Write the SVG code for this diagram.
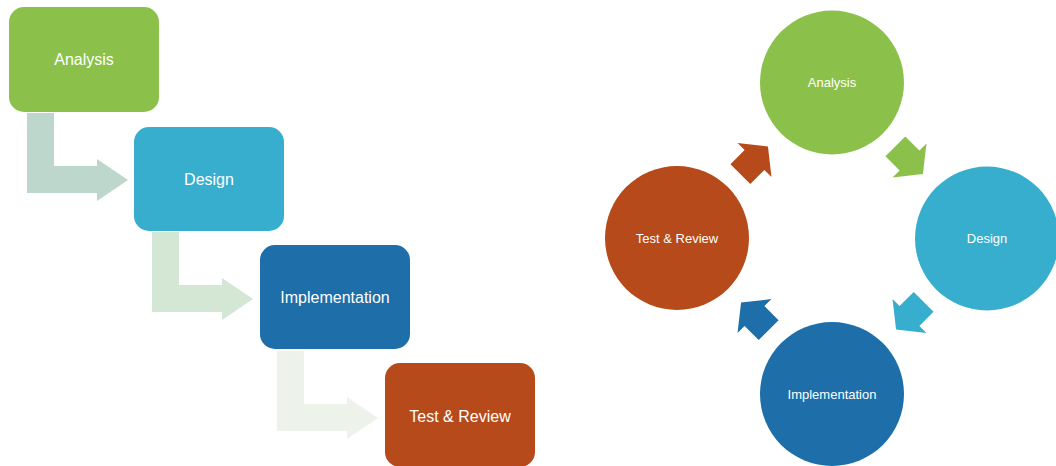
<svg xmlns="http://www.w3.org/2000/svg" xmlns:xlink="http://www.w3.org/1999/xlink" width="1056" height="466" viewBox="0 0 1056 466">
<style>
.lbl{font-family:"Liberation Sans",Arial,sans-serif;fill:#ffffff;text-anchor:middle}
.big{font-size:16px}
.small{font-size:13px}
</style>
<defs>
<polygon id="cyc" points="-20,-14 0,-14 0,-24 19,0 0,24 0,14 -20,14"/>
</defs>
<rect width="1056" height="466" fill="#ffffff"/>
<g id="connectors">
<polygon points="27,113 54,113 54,166 97,166 97,159 128,180 97,201 97,193 27,193" fill="#BDD7CD"/>
<polygon points="152,232 179,232 179,285 222,285 222,278 253,299 222,320 222,312 152,312" fill="#D4E7D5"/>
<polygon points="277,351 304,351 304,404 347,404 347,397 378,418 347,439 347,431 277,431" fill="#EDF3EA"/>
<use xlink:href="#cyc" href="#cyc" transform="translate(909.5,160.5) rotate(45)" fill="#8BC14A"/>
<use xlink:href="#cyc" href="#cyc" transform="translate(909.5,316) rotate(135)" fill="#37AECE"/>
<use xlink:href="#cyc" href="#cyc" transform="translate(754.5,316) rotate(225)" fill="#1E6EA9"/>
<use xlink:href="#cyc" href="#cyc" transform="translate(754.5,160) rotate(315)" fill="#B64A1A"/>
</g>
<g id="box-analysis">
<rect x="9" y="7" width="150" height="105" rx="15" fill="#8BC14A"/>
<text class="lbl big" x="84" y="65">Analysis</text>
</g>
<g id="box-design">
<rect x="134" y="127" width="150" height="104" rx="15" fill="#37AECE"/>
<text class="lbl big" x="209" y="185">Design</text>
</g>
<g id="box-implementation">
<rect x="260" y="245" width="150" height="104" rx="15" fill="#1E6EA9"/>
<text class="lbl big" x="335" y="303">Implementation</text>
</g>
<g id="box-test">
<rect x="385" y="363" width="150" height="104" rx="15" fill="#B64A1A"/>
<text class="lbl big" x="460" y="422">Test &amp; Review</text>
</g>
<g id="circle-analysis">
<circle cx="832" cy="82.5" r="72" fill="#8BC14A"/>
<text class="lbl small" x="832" y="87">Analysis</text>
</g>
<g id="circle-design">
<circle cx="987" cy="238.5" r="72" fill="#37AECE"/>
<text class="lbl small" x="987" y="243">Design</text>
</g>
<g id="circle-implementation">
<circle cx="832" cy="394" r="72" fill="#1E6EA9"/>
<text class="lbl small" x="832" y="398.5">Implementation</text>
</g>
<g id="circle-test">
<circle cx="677" cy="238" r="72" fill="#B64A1A"/>
<text class="lbl small" x="677" y="242.5">Test &amp; Review</text>
</g>
</svg>
